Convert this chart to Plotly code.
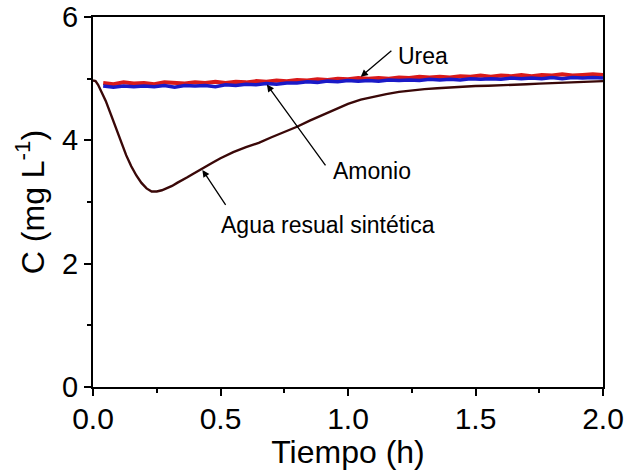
import plotly.graph_objects as go

# ---- data ----
t_urea = [0.04, 0.08, 0.12, 0.16, 0.20, 0.24, 0.28, 0.32, 0.36, 0.40, 0.44, 0.48, 0.52, 0.56, 0.60,
          0.64, 0.68, 0.72, 0.76, 0.80, 0.84, 0.88, 0.92, 0.96, 1.00, 1.04, 1.08, 1.12, 1.16, 1.20,
          1.24, 1.28, 1.32, 1.36, 1.40, 1.44, 1.48, 1.52, 1.56, 1.60, 1.64, 1.68, 1.72, 1.76, 1.80,
          1.84, 1.88, 1.92, 1.96, 2.00]
c_urea = [4.93, 4.91, 4.94, 4.92, 4.93, 4.91, 4.94, 4.93, 4.92, 4.94, 4.93, 4.95, 4.93, 4.95, 4.94,
          4.96, 4.95, 4.97, 4.96, 4.98, 4.97, 4.99, 4.98, 5.00, 4.99, 5.01, 5.00, 5.01, 5.00, 5.02,
          5.01, 5.03, 5.02, 5.03, 5.02, 5.04, 5.03, 5.05, 5.03, 5.05, 5.04, 5.06, 5.04, 5.06, 5.05,
          5.07, 5.05, 5.06, 5.07, 5.06]

t_amonio = t_urea
c_amonio = [4.88, 4.86, 4.88, 4.87, 4.88, 4.87, 4.89, 4.86, 4.89, 4.88, 4.89, 4.87, 4.90, 4.89, 4.91,
            4.90, 4.92, 4.91, 4.93, 4.93, 4.95, 4.94, 4.96, 4.95, 4.97, 4.96, 4.97, 4.96, 4.98, 4.97,
            4.98, 4.97, 4.99, 4.98, 4.99, 4.98, 5.00, 4.99, 5.00, 4.99, 5.01, 5.00, 5.01, 5.00, 5.02,
            5.00, 5.02, 5.01, 5.02, 5.01]

t_agua = [0.00, 0.01, 0.02, 0.03, 0.05, 0.07, 0.09, 0.11, 0.13, 0.15, 0.17, 0.19, 0.21, 0.23, 0.25,
          0.27, 0.29, 0.31, 0.33, 0.35, 0.37, 0.39, 0.41, 0.43, 0.45, 0.47, 0.50, 0.55, 0.60, 0.65,
          0.70, 0.75, 0.80, 0.85, 0.90, 0.95, 1.00, 1.05, 1.10, 1.15, 1.20, 1.25, 1.30, 1.35, 1.40,
          1.45, 1.50, 1.55, 1.60, 1.65, 1.70, 1.75, 1.80, 1.85, 1.90, 1.95, 2.00]
c_agua = [4.97, 4.96, 4.90, 4.81, 4.64, 4.42, 4.20, 3.96, 3.76, 3.58, 3.43, 3.31, 3.22, 3.17, 3.17,
          3.19, 3.22, 3.26, 3.31, 3.35, 3.40, 3.45, 3.50, 3.55, 3.59, 3.64, 3.71, 3.81, 3.89, 3.96,
          4.05, 4.13, 4.22, 4.32, 4.41, 4.51, 4.59, 4.66, 4.71, 4.75, 4.785, 4.81, 4.83, 4.845, 4.86,
          4.87, 4.88, 4.885, 4.89, 4.90, 4.91, 4.92, 4.93, 4.93, 4.94, 4.95, 4.96]

x_ticks = [0.0, 0.5, 1.0, 1.5, 2.0]
x_ticklabels = ["0.0", "0.5", "1.0", "1.5", "2.0"]
y_ticks = [0, 2, 4, 6]
y_ticklabels = ["0", "2", "4", "6"]

FONT = "Arial, Liberation Sans, sans-serif"

fig = go.Figure()
fig.add_trace(go.Scatter(x=t_urea, y=c_urea, mode="lines", name="Urea",
                         line=dict(color="#d91a1a", width=4)))
fig.add_trace(go.Scatter(x=t_amonio, y=c_amonio, mode="lines", name="Amonio",
                         line=dict(color="#1a1ac8", width=3.5)))
fig.add_trace(go.Scatter(x=t_agua, y=c_agua, mode="lines", name="Agua resual sintética",
                         line=dict(color="#3a0808", width=2.4)))

arrow_style = dict(showarrow=True, arrowhead=2, arrowsize=1.1, arrowwidth=1.3,
                   arrowcolor="black", axref="x", ayref="y", xref="x", yref="y", text="")
# arrows (tip x,y ; tail ax,ay)
fig.add_annotation(x=1.05, y=5.03, ax=1.176, ay=5.475, **arrow_style)
fig.add_annotation(x=0.682, y=4.905, ax=0.916, ay=3.57, **arrow_style)
fig.add_annotation(x=0.429, y=3.52, ax=0.524, ay=2.93, **arrow_style)

label_style = dict(showarrow=False, xref="x", yref="y", xanchor="left", yanchor="middle",
                   font=dict(family=FONT, size=23, color="black"))
fig.add_annotation(x=1.19, y=5.37, text="Urea", **label_style)
fig.add_annotation(x=0.935, y=3.50, text="Amonio", **label_style)
fig.add_annotation(x=0.495, y=2.63, text="Agua resual sintética", **label_style)

axis_common = dict(showline=True, linecolor="black", linewidth=2, mirror=True,
                   ticks="outside", ticklen=7, tickwidth=1.8, tickcolor="black",
                   showgrid=False, zeroline=False)

fig.update_xaxes(range=[0, 2], tickvals=x_ticks, ticktext=x_ticklabels,
                 tickfont=dict(family=FONT, size=30, color="black"), ticklabelstandoff=-3,
                 title=dict(text="Tiempo (h)", font=dict(family=FONT, size=32, color="black"), standoff=4),
                 minor=dict(tickvals=[0.25, 0.75, 1.25, 1.75], ticklen=4, tickwidth=1.8,
                            tickcolor="black", ticks="outside"),
                 **axis_common)
fig.update_yaxes(range=[0, 6], tickvals=y_ticks, ticktext=y_ticklabels,
                 tickfont=dict(family=FONT, size=29, color="black"),
                 title=dict(text="C (mg L<sup>-1</sup>)", font=dict(family=FONT, size=32, color="black"), standoff=8),
                 minor=dict(tickvals=[1, 3, 5], ticklen=4, tickwidth=1.8,
                            tickcolor="black", ticks="outside"),
                 **axis_common)

fig.update_layout(width=629, height=470, margin=dict(l=93, r=26, t=17, b=83, autoexpand=False),
                  plot_bgcolor="white", paper_bgcolor="white", showlegend=False)

fig.write_html("out.html")
